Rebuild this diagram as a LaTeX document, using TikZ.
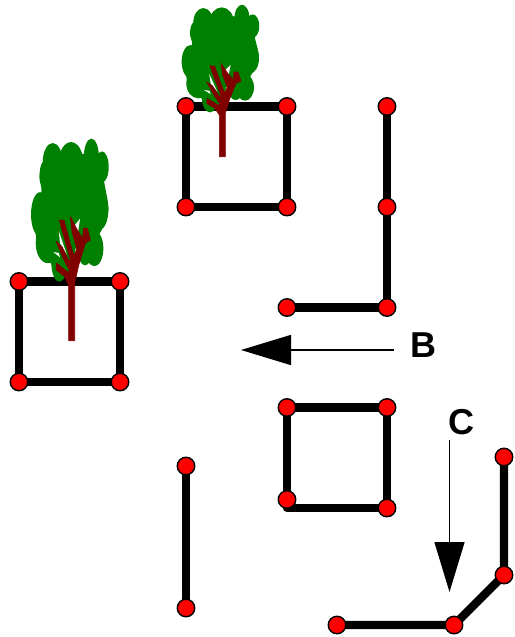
\documentclass[tikz,border=0pt]{standalone}
\usepackage{fontspec}
\setmainfont{Liberation Sans}
\usetikzlibrary{arrows.meta,backgrounds}
\definecolor{crown}{RGB}{0,128,0}
\definecolor{bark}{RGB}{128,0,0}
\tikzset{
  joint/.style={circle,fill=red,draw=black,line width=1.4pt,minimum size=17.5pt,inner sep=0pt},
  beam/.style={line width=8.4pt,draw=black,line join=round},
  pointer/.style={line width=1.5pt,draw=black,-{Triangle[length=50pt,width=30pt]},shorten >=0pt},
  tag/.style={font=\bfseries\fontsize{36}{36}\selectfont,inner sep=0pt},
}
\newcommand{\drawtree}[3]{%
\begin{scope}[shift={(#1,#2)},x=0.3333pt,y=-#3*0.3333pt,shift={(-157,-470)}]
  \fill[crown] plot[smooth cycle,tension=0.6] coordinates {
    (72,65)(125,48)(180,48)(240,60)(255,115)(267,175)
    (250,215)(238,235)(235,275)(192,278)(170,290)(150,320)(118,325)
    (90,290)(58,262)(48,225)(40,205)(40,165)(66,135)(60,100)};
  \foreach \cx/\cy/\rx/\ry in {100/68/30/44,155/68/37/46,216/58/23/44,248/78/20/35,
      62/185/27/50,225/262/27/40,197/265/22/35,120/295/24/42,85/250/36/45,240/175/27/45}
    {\fill[crown] (\cx,\cy) ellipse [x radius=\rx,y radius=\ry];}
  \fill[white] (118,222)--(142,275)--(122,250)--cycle;
  \fill[white] (182,195)--(172,245)--(160,215)--cycle;
  \fill[white] (102,270)--(118,272)--(122,282)--cycle;
  \fill[white] (168,262)--(180,262)--(172,300)--(164,310)--cycle;
  \filldraw[bark,line width=0.6pt,line join=round] (148,470)--(148,345)--(135,325)--(110,310)--(112,295)--(146,316)--(150,312)
    --(130,282)--(110,245)--(128,258)--(150,292)--(152,285)--(120,198)--(134,198)--(160,270)
    --(165,278)--(172,262)--(158,225)--(153,190)--(172,218)--(190,240)--(192,216)--(204,216)
    --(213,243)--(198,250)--(178,300)--(166,340)--(166,470)--cycle;
\end{scope}}
\begin{document}
\begin{tikzpicture}[x=1pt,y=-1pt]
\useasboundingbox (0,0) rectangle (514,637);
% joints
\node[joint] (a1) at (186,106.5) {};
\node[joint] (a2) at (287,106.5) {};
\node[joint] (a3) at (287,207) {};
\node[joint] (a4) at (186,207) {};
\node[joint] (b1) at (387,106.5) {};
\node[joint] (b2) at (387,207) {};
\node[joint] (b3) at (387,307.5) {};
\node[joint] (b4) at (287,307.5) {};
\node[joint] (c1) at (19,281.5) {};
\node[joint] (c2) at (120,281.5) {};
\node[joint] (c3) at (120,382) {};
\node[joint] (c4) at (19,382) {};
\node[joint] (d1) at (287,407.5) {};
\node[joint] (d2) at (387,407.5) {};
\node[joint] (d3) at (387,508) {};
\node[joint] (d4) at (287,499.5) {};
\coordinate (dc) at (287,508);
\node[joint] (e1) at (186,466) {};
\node[joint] (e2) at (186,608) {};
\node[joint] (f1) at (337,625) {};
\node[joint] (f2) at (454,625) {};
\node[joint] (f3) at (504,575) {};
\node[joint] (f4) at (504,457) {};
% labels and pointers
\node[tag] (lb) at (423,345) {B};
\node[tag] (lc) at (461,422) {C};
\coordinate (bs) at (394,350);
\coordinate (be) at (241,350);
\coordinate (cs) at (449.5,440);
\coordinate (ce) at (449.5,592);
\draw[pointer] (bs) -- (be);
\draw[pointer] (cs) -- (ce);
\begin{scope}[on background layer]
  \draw[beam] (a1.center) -- (a2.center) -- (a3.center) -- (a4.center) -- cycle;
  \draw[beam] (b1.center) -- (b2.center) -- (b3.center) -- (b4.center);
  \draw[beam] (c1.center) -- (c2.center) -- (c3.center) -- (c4.center) -- cycle;
  \draw[beam] (d4.center) -- (d1.center) -- (d2.center) -- (d3.center) -- (dc) -- (d4.center);
  \draw[beam] (e1.center) -- (e2.center);
  \draw[beam] (f1.center) -- (f2.center) -- (f3.center) -- (f4.center);
  \drawtree{222.3}{156.7}{1}
  \drawtree{71.7}{340.7}{1.33}
\end{scope}
\end{tikzpicture}
\end{document}
